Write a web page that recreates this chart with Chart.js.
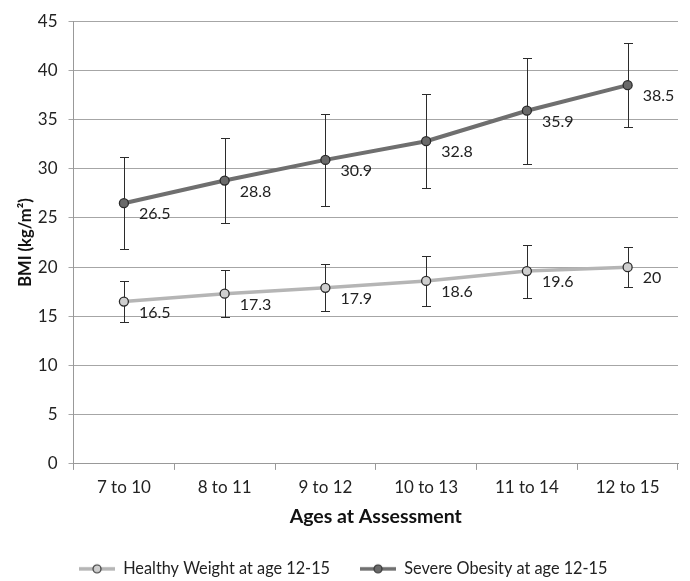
<!DOCTYPE html>
<html>
<head>
<meta charset="utf-8">
<script src="https://cdn.jsdelivr.net/npm/chart.js@4"></script>
<style>
  html, body { margin: 0; padding: 0; background: #fff; }
  #wrap { width: 690px; height: 581px; }
</style>
</head>
<body>
<div id="wrap"><canvas id="bmiChart" width="690" height="581"></canvas></div>
<script>
// chart data
const ageGroups = ['7 to 10', '8 to 11', '9 to 12', '10 to 13', '11 to 14', '12 to 15'];
const healthyBmi = [16.5, 17.3, 17.9, 18.6, 19.6, 20];
const healthyErr = [2.1, 2.4, 2.4, 2.5, 2.7, 2.0];
const obeseBmi = [26.5, 28.8, 30.9, 32.8, 35.9, 38.5];
const obeseErr = [4.7, 4.3, 4.7, 4.75, 5.4, 4.3];
const seriesNames = ['Healthy Weight at age 12-15', 'Severe Obesity at age 12-15'];
const yTicks = [0, 5, 10, 15, 20, 25, 30, 35, 40, 45];

const FONT = 'Lato, "Open Sans", sans-serif';

// legend swatch: line with a marker in the middle
function swatch(lineColor, fillColor) {
    const c = document.createElement('canvas');
    c.width = 36; c.height = 12;
    const g = c.getContext('2d');
    g.strokeStyle = lineColor;
    g.lineWidth = 3.5;
    g.beginPath(); g.moveTo(0, 6); g.lineTo(36, 6); g.stroke();
    g.fillStyle = fillColor;
    g.strokeStyle = '#333';
    g.lineWidth = 1.2;
    g.beginPath(); g.arc(18, 6, 4, 0, Math.PI * 2); g.fill(); g.stroke();
    return c;
}

// error bars + value labels
const extras = {
    id: 'extras',
    beforeDatasetsDraw(chart) {
        const ctx = chart.ctx;
        const y = chart.scales.y;
        ctx.save();
        ctx.strokeStyle = '#2b2b2b';
        ctx.lineWidth = 1;
        chart.data.datasets.forEach((ds, i) => {
            const meta = chart.getDatasetMeta(i);
            meta.data.forEach((pt, j) => {
                const top = Math.round(y.getPixelForValue(ds.data[j] + ds.errors[j])) + 0.5;
                const bot = Math.round(y.getPixelForValue(ds.data[j] - ds.errors[j])) + 0.5;
                const x = Math.round(pt.x) + 0.5;
                ctx.beginPath();
                ctx.moveTo(x, top); ctx.lineTo(x, bot);
                ctx.moveTo(x - 4.5, top); ctx.lineTo(x + 4.5, top);
                ctx.moveTo(x - 4.5, bot); ctx.lineTo(x + 4.5, bot);
                ctx.stroke();
            });
        });
        ctx.restore();
    },
    afterDatasetsDraw(chart) {
        const ctx = chart.ctx;
        ctx.save();
        ctx.fillStyle = '#222';
        ctx.font = '16px ' + FONT;
        ctx.textBaseline = 'middle';
        chart.data.datasets.forEach((ds, i) => {
            chart.getDatasetMeta(i).data.forEach((pt, j) => {
                ctx.fillText(String(ds.data[j]), pt.x + 15, pt.y + 11);
            });
        });
        ctx.restore();
    }
};

new Chart(document.getElementById('bmiChart'), {
    type: 'line',
    data: {
        labels: ageGroups,
        datasets: [
            {
                label: seriesNames[0],
                data: healthyBmi,
                errors: healthyErr,
                borderColor: '#b5b5b5',
                backgroundColor: '#c9c9c9',
                borderWidth: 3.5,
                pointRadius: 4.5,
                pointBorderColor: '#2b2b2b',
                pointBorderWidth: 1.3,
                pointBackgroundColor: '#cfcfcf',
                tension: 0,
                legendSwatch: swatch('#b5b5b5', '#cfcfcf')
            },
            {
                label: seriesNames[1],
                data: obeseBmi,
                errors: obeseErr,
                borderColor: '#6f6f6f',
                backgroundColor: '#6a6a6a',
                borderWidth: 4,
                pointRadius: 4.5,
                pointBorderColor: '#2b2b2b',
                pointBorderWidth: 1.3,
                pointBackgroundColor: '#6a6a6a',
                tension: 0,
                legendSwatch: swatch('#6f6f6f', '#6a6a6a')
            }
        ]
    },
    options: {
        responsive: false,
        animation: false,
        layout: { padding: { top: 13, right: 12, left: 8.5, bottom: -6 } },
        scales: {
            x: {
                offset: true,
                grid: { offset: true, drawOnChartArea: false, drawTicks: true, tickLength: 6, color: '#999' },
                border: { display: true, color: '#999' },
                ticks: { color: '#222', font: { family: FONT, size: 17 }, padding: 7 },
                title: {
                    display: true,
                    text: 'Ages at Assessment',
                    color: '#111',
                    font: { family: FONT, size: 19.5, weight: 'bold' },
                    padding: { top: 1, bottom: 2 }
                }
            },
            y: {
                min: 0,
                max: 45,
                afterBuildTicks(axis) { axis.ticks = yTicks.map(v => ({ value: v })); },
                grid: { color: '#a6a6a6', tickLength: 5, drawTicks: true },
                border: { display: true, color: '#999' },
                ticks: { color: '#222', font: { family: FONT, size: 17 }, padding: 11 },
                title: {
                    display: true,
                    text: 'BMI (kg/m²)',
                    color: '#111',
                    font: { family: FONT, size: 16.5, weight: 'bold' },
                    padding: { top: 7, bottom: -8.5 }
                }
            }
        },
        plugins: {
            legend: {
                position: 'bottom',
                labels: {
                    usePointStyle: true,
                    pointStyleWidth: 36,
                    boxHeight: 12,
                    padding: 30,
                    color: '#222',
                    font: { family: FONT, size: 16.3 },
                    generateLabels(chart) {
                        return chart.data.datasets.map((ds, i) => ({
                            text: ds.label,
                            pointStyle: ds.legendSwatch,
                            fillStyle: ds.backgroundColor,
                            strokeStyle: ds.borderColor,
                            lineWidth: 0,
                            fontColor: '#222',
                            hidden: false,
                            datasetIndex: i
                        }));
                    }
                }
            },
            tooltip: { enabled: false }
        }
    },
    plugins: [extras]
});
</script>
</body>
</html>
